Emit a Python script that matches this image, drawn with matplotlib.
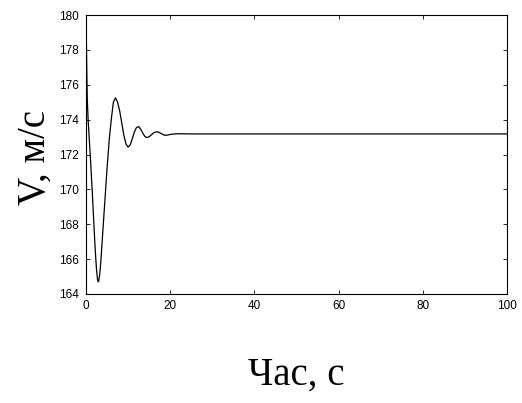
import numpy as np
import matplotlib
matplotlib.use("Agg")
import matplotlib.pyplot as plt

# speed over time
t = [0, 0.1, 0.2, 0.3, 0.5, 0.75, 1.0, 1.25, 1.5, 1.75, 2.0, 2.25, 2.5, 2.75, 2.9,
     3.0, 3.25, 3.5, 3.75, 4.0, 4.5, 5.0, 5.5, 6.0, 6.5, 7.0, 7.5, 8.0, 8.5, 9.0,
     9.5, 10.0, 10.5, 11.0, 11.5, 12.0, 12.5, 13.0, 13.5, 14.0, 14.5, 15.0, 15.5,
     16.0, 16.5, 17.0, 17.5, 18.0, 18.5, 19.0, 19.5, 20.0, 21.0, 22.0, 25.0, 100.0]
v = [180.0, 178.3, 176.6, 175.2, 174.0, 173.0, 172.0, 170.9, 169.8, 168.6, 167.4,
     166.3, 165.4, 164.8, 164.7, 164.72, 165.1, 165.8, 166.7, 167.6, 169.4, 171.2,
     172.8, 174.0, 175.0, 175.25, 175.0, 174.5, 173.8, 173.1, 172.6, 172.42, 172.55,
     172.9, 173.3, 173.55, 173.6, 173.45, 173.22, 173.03, 172.97, 173.02, 173.12,
     173.23, 173.29, 173.3, 173.25, 173.18, 173.12, 173.1, 173.12, 173.15, 173.18,
     173.19, 173.18, 173.18]

xticks = [0, 20, 40, 60, 80, 100]
yticks = [164, 166, 168, 170, 172, 174, 176, 178, 180]

fig = plt.figure(figsize=(5.22, 4.03), dpi=100)
ax = fig.add_axes([86/522, 1 - 294/403, (507-86)/522, (294-15)/403])

ax.plot(t, v, color='black', linewidth=0.9)

ax.set_xlim(0, 100)
ax.set_ylim(164, 180)
ax.set_xticks(xticks)
ax.set_yticks(yticks)
ax.tick_params(direction='in', top=True, right=True, length=3, width=0.6,
               labelsize=8.5)
ax.tick_params(axis='y', pad=5)
ax.tick_params(axis='x', pad=4)
for lab in ax.get_xticklabels() + ax.get_yticklabels():
    lab.set_family('Liberation Sans')
for sp in ax.spines.values():
    sp.set_linewidth(0.8)

ax.set_ylabel('V, м/с', family='Liberation Serif', fontsize=28)
ax.yaxis.set_label_coords(-0.076, 0.49)
ax.set_xlabel('Час, с', family='Liberation Serif', fontsize=28)
ax.xaxis.set_label_coords(0.5, -0.225)

fig.savefig('out.png', dpi=100)
